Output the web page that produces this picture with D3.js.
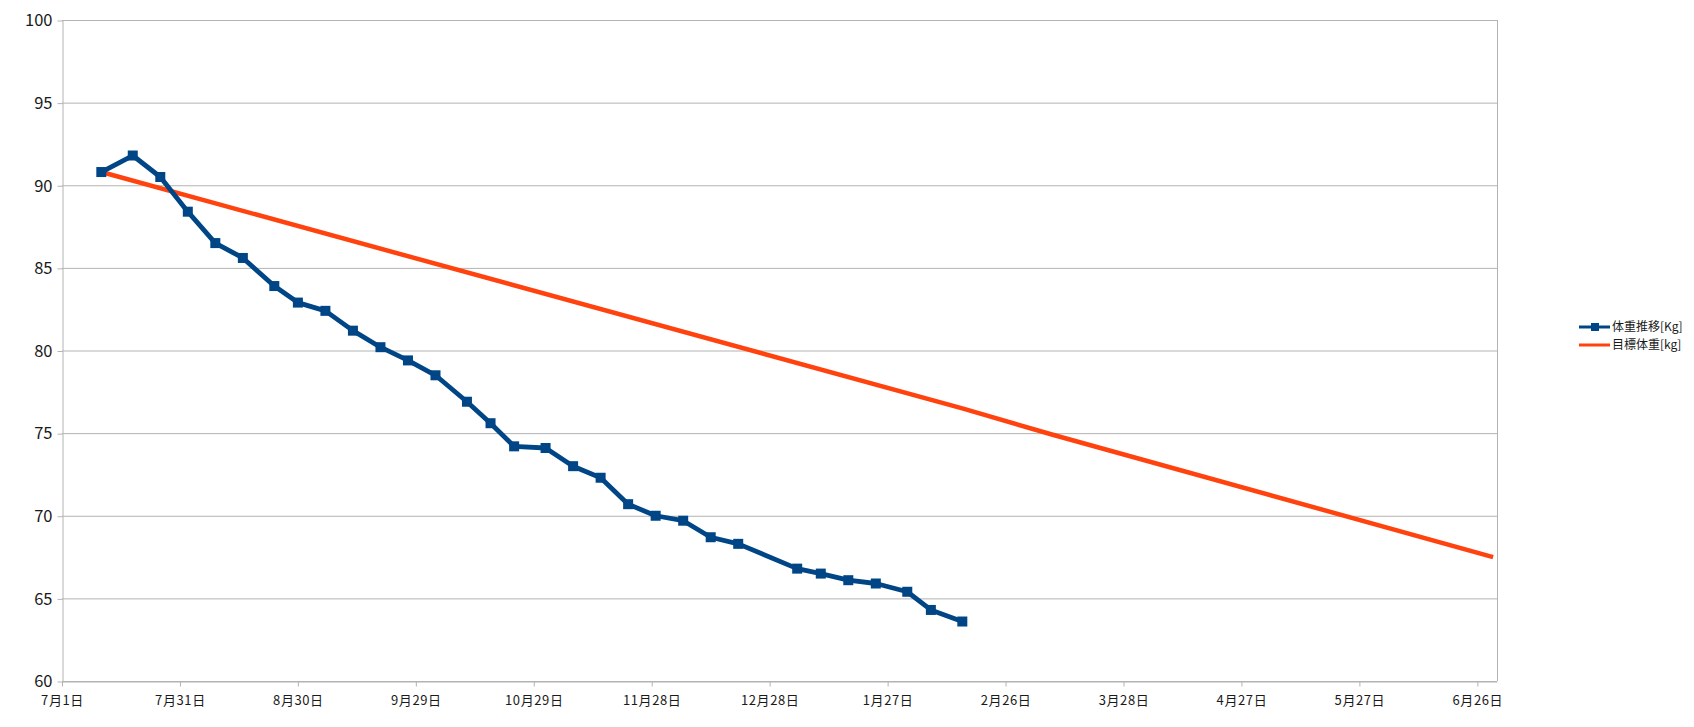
<!DOCTYPE html>
<html>
<head>
<meta charset="utf-8">
<script src="https://cdnjs.cloudflare.com/ajax/libs/d3/7.8.5/d3.min.js"></script>
<style>
  body { margin: 0; background: #fff; }
  text { font-family: "Noto Sans CJK JP", "Noto Sans", sans-serif; }
</style>
</head>
<body>
<div id="chart"></div>
<script>
var seriesNames = ["体重推移[Kg]", "目標体重[kg]"];

var weightDates = [
  "2012-07-11", "2012-07-19", "2012-07-26", "2012-08-02", "2012-08-09", "2012-08-16",
  "2012-08-24", "2012-08-30", "2012-09-06", "2012-09-13", "2012-09-20", "2012-09-27",
  "2012-10-04", "2012-10-12", "2012-10-18", "2012-10-24", "2012-11-01", "2012-11-08",
  "2012-11-15", "2012-11-22", "2012-11-29", "2012-12-06", "2012-12-13", "2012-12-20",
  "2013-01-04", "2013-01-10", "2013-01-17", "2013-01-24", "2013-02-01", "2013-02-07",
  "2013-02-15"
];
var weightValues = [
  90.8, 91.8, 90.5, 88.4, 86.5, 85.6,
  83.9, 82.9, 82.4, 81.2, 80.2, 79.4,
  78.5, 76.9, 75.6, 74.2, 74.1, 73.0,
  72.3, 70.7, 70.0, 69.7, 68.7, 68.3,
  66.8, 66.5, 66.1, 65.9, 65.4, 64.3,
  63.6
];

var targetDates = ["2012-07-11", "2013-02-15", "2013-03-10", "2013-06-30"];
var targetValues = [90.8, 76.5, 74.9, 67.5];

var xTickDates = [
  "2012-07-01", "2012-07-31", "2012-08-30", "2012-09-29", "2012-10-29", "2012-11-28",
  "2012-12-28", "2013-01-27", "2013-02-26", "2013-03-28", "2013-04-27", "2013-05-27",
  "2013-06-26"
];
var yTicks = [60, 65, 70, 75, 80, 85, 90, 95, 100];

var w = 1694, h = 727;
var plotLeft = 62, plotRight = 1497, plotTop = 20, plotBottom = 681;
var gridColor = "#b3b3b3";
var blue = "#004586", orange = "#ff420e";

var parse = d3.timeParse("%Y-%m-%d");
var fmt = d3.timeFormat("%-m月%-d日");

var weight = weightDates.map((d, i) => ({ date: parse(d), value: weightValues[i] }));
var target = targetDates.map((d, i) => ({ date: parse(d), value: targetValues[i] }));

var x = d3.scaleTime()
  .domain([parse("2012-07-01"), parse("2013-07-01")])
  .range([plotLeft, plotRight]);
var y = d3.scaleLinear().domain([60, 100]).range([plotBottom, plotTop]);

var svg = d3.select("#chart").append("svg")
  .attr("width", w).attr("height", h);

svg.append("g").selectAll("line")
  .data(yTicks)
  .join("line")
  .attr("x1", plotLeft).attr("x2", plotRight)
  .attr("y1", d => y(d) + 0.5).attr("y2", d => y(d) + 0.5)
  .attr("stroke", gridColor);

svg.append("line")
  .attr("x1", plotRight + 0.5).attr("x2", plotRight + 0.5)
  .attr("y1", plotTop).attr("y2", plotBottom)
  .attr("stroke", gridColor);

var yAxis = svg.append("g")
  .attr("transform", "translate(" + (plotLeft + 0.5) + ",0.5)")
  .call(d3.axisLeft(y).tickValues(yTicks).tickSize(5).tickSizeOuter(0).tickPadding(5));

var xAxis = svg.append("g")
  .attr("transform", "translate(0," + (plotBottom + 0.5) + ")")
  .call(d3.axisBottom(x).tickValues(xTickDates.map(parse)).tickFormat(fmt)
    .tickSize(5).tickSizeOuter(0).tickPadding(9));

[yAxis, xAxis].forEach(a => {
  a.selectAll("path, line").attr("stroke", gridColor);
  a.selectAll("text").attr("fill", "#1a1a1a");
});
yAxis.selectAll("text").attr("font-size", 16.5);
xAxis.selectAll("text").attr("font-size", 13).attr("letter-spacing", "0.6px");

var line = d3.line().x(d => x(d.date)).y(d => y(d.value));

svg.append("path")
  .datum(target)
  .attr("d", line)
  .attr("fill", "none")
  .attr("stroke", orange)
  .attr("stroke-width", 4.5)
  .attr("stroke-linejoin", "round");

svg.append("path")
  .datum(weight)
  .attr("d", line)
  .attr("fill", "none")
  .attr("stroke", blue)
  .attr("stroke-width", 4.8)
  .attr("stroke-linejoin", "round");

svg.append("g").selectAll("rect")
  .data(weight)
  .join("rect")
  .attr("x", d => x(d.date) - 5)
  .attr("y", d => y(d.value) - 5)
  .attr("width", 10).attr("height", 10)
  .attr("fill", blue);

// legend
var legend = svg.append("g").attr("transform", "translate(1579,327)");
var colors = [blue, orange];
var items = legend.selectAll("g")
  .data(seriesNames)
  .join("g")
  .attr("transform", (d, i) => "translate(0," + i * 18 + ")");

items.append("line")
  .attr("x1", 0).attr("x2", 31)
  .attr("stroke", (d, i) => colors[i])
  .attr("stroke-width", 3);

items.filter((d, i) => i == 0).append("rect")
  .attr("x", 12).attr("y", -4)
  .attr("width", 8).attr("height", 8)
  .attr("fill", blue);

items.append("text")
  .attr("x", 33)
  .attr("dy", "0.35em")
  .attr("font-size", 12)
  .attr("fill", "#1a1a1a")
  .text(d => d);
</script>
</body>
</html>
